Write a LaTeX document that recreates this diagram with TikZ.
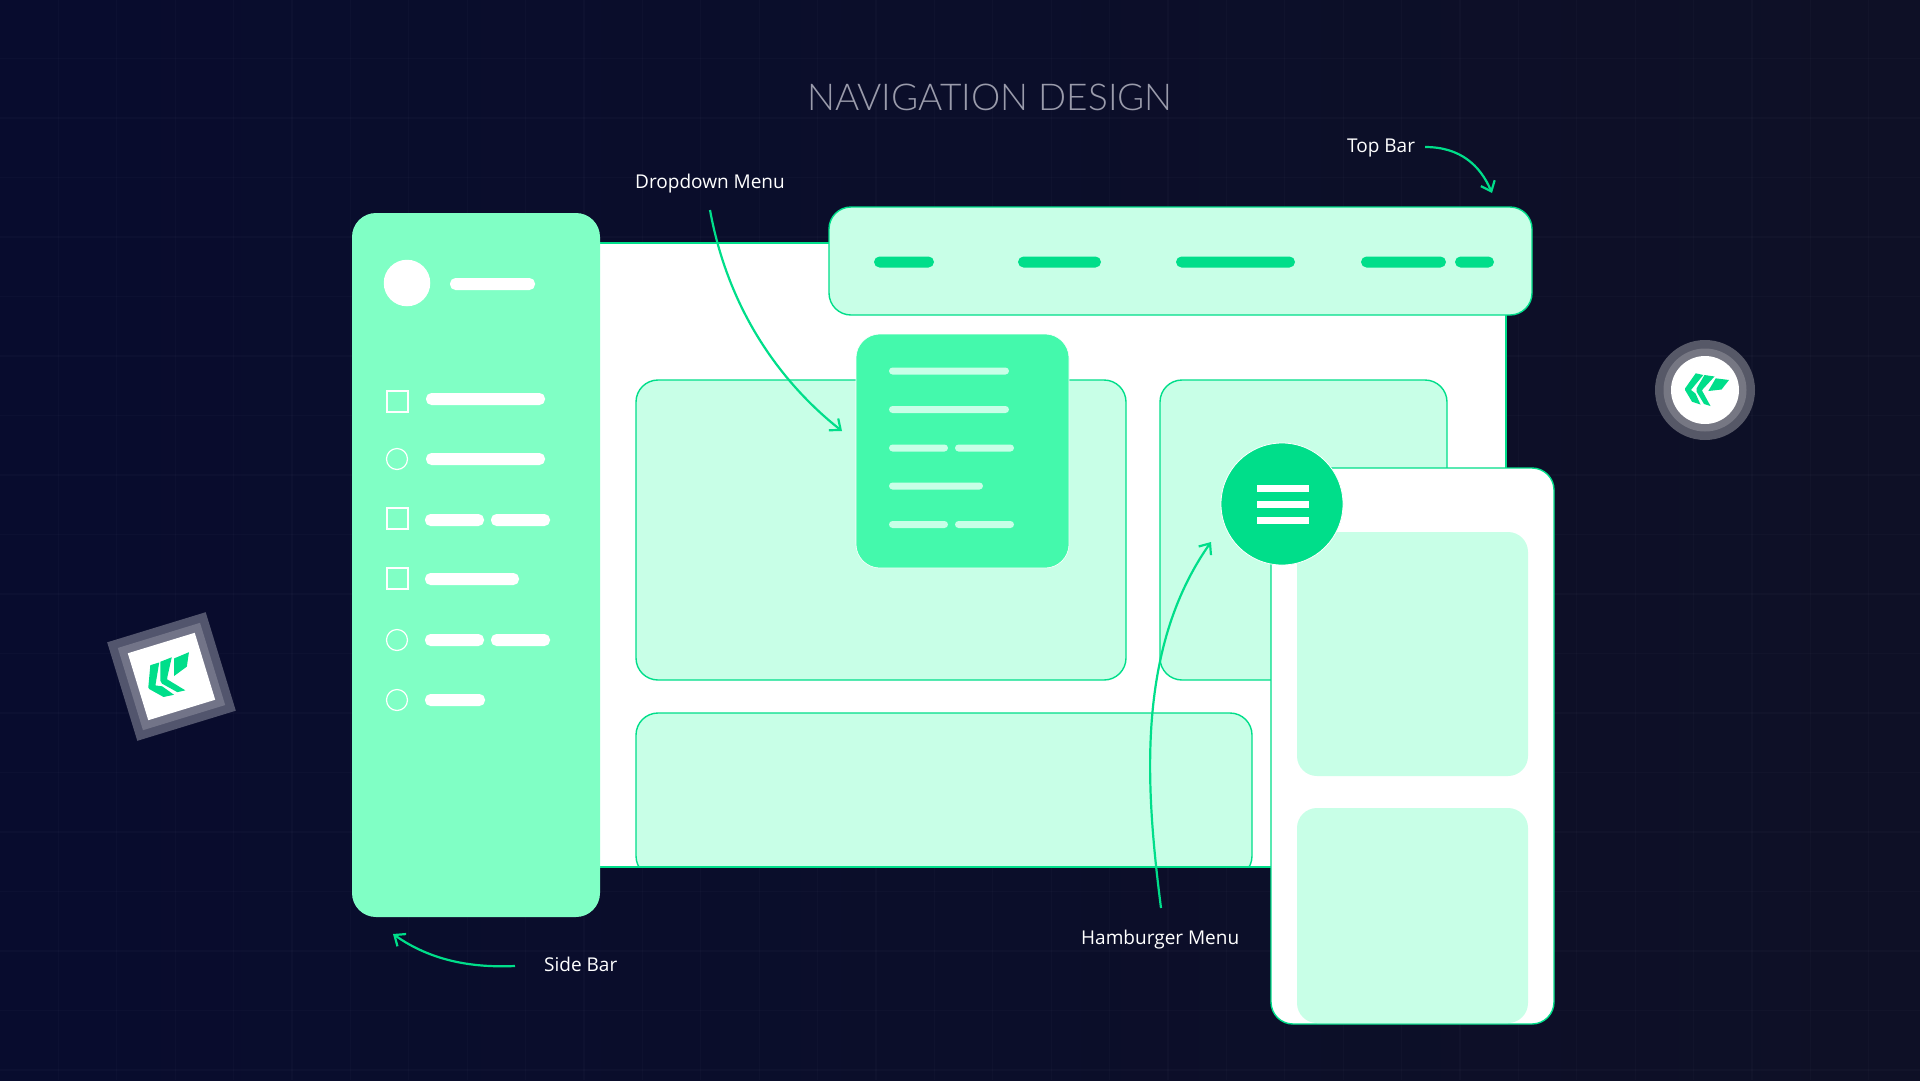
\documentclass[tikz,border=0pt]{standalone}
\usepackage{fontspec}
\usetikzlibrary{arrows.meta}
\setmainfont{Open Sans}
\newfontfamily\titlefont{Lato Light}
\definecolor{bgL}{HTML}{080C2E}
\definecolor{bgR}{HTML}{0E1026}
\definecolor{mint}{HTML}{80FFC5}
\definecolor{pale}{HTML}{C8FFE7}
\definecolor{vivid}{HTML}{00DE8A}
\definecolor{drop}{HTML}{44F9AC}
\definecolor{titlegrey}{HTML}{9A9BAB}
\tikzset{
  x=1pt,y=-1pt,
  base/.style={inner sep=0pt,outer sep=0pt,rectangle},
  panel/.style={base,fill=pale,draw=vivid,line width=1.4pt,rounded corners=22pt},
  whitebox/.style={base,fill=white,draw=vivid,line width=1.4pt},
  phonebox/.style={base,fill=white,draw=vivid,line width=1.4pt,rounded corners=22pt},
  innercard/.style={base,fill=pale,rounded corners=20pt},
  sidebox/.style={base,fill=mint,rounded corners=24pt},
  dropbox/.style={base,fill=drop,draw=white,line width=.6pt,rounded corners=24pt},
  topdash/.style={base,fill=vivid,rounded corners=5.5pt},
  sidedash/.style={base,fill=white,rounded corners=5.5pt},
  droplinebar/.style={base,fill=pale,rounded corners=3.5pt},
  sq/.style={base,draw=white,line width=1.2pt},
  rnd/.style={circle,inner sep=0pt,outer sep=0pt,draw=white,line width=1.2pt},
  burger/.style={base,fill=white},
  lbl/.style={text=white,font=\fontsize{19}{24}\selectfont,inner sep=0pt},
  conn/.style={draw=vivid,line width=2.2pt,-{Straight Barb[length=9pt,width=15pt,line width=2.2pt]}},
}
\newcommand{\bx}[6]{\node[#1,minimum width={(#5-#3)*1pt},minimum height={(#6-#4)*1pt}] (#2) at ({(#3+#5)/2},{(#4+#6)/2}) {};}
\newcommand{\logomark}{%
  \fill[vivid] (-20,-1.5)--(-9.3,-16.7)--(-1.7,-15)--(-12,-2.5)--(-14,0)--(-9.5,3.5)--(-4.5,14.5)--(-13,11.7)--(-20,0)--cycle;
  \fill[vivid] (-0.5,-15)--(9.5,-13.5)--(-2,-1)--(-3,0.5)--(5.5,16)--(-1,14)--(-8.5,1.5)--(-8.5,-1.5)--cycle;
  \fill[vivid] (10.7,-11.7)--(24,-10)--(16.5,-0.5)--(3.3,1)--cycle;
}
\begin{document}
\begin{tikzpicture}
\useasboundingbox (0,0) rectangle (1920,1080);
\shade[left color=bgL,right color=bgR] (0,0) rectangle (1920,1080);
\foreach \i in {1,...,32} {
  \draw[white,opacity=.018,line width=1.2pt] ({58.4*\i},0) -- ({58.4*\i},1080);
}
\foreach \i in {1,...,18} {
  \draw[white,opacity=.018,line width=1.2pt] (0,{59.5*\i-1}) -- (1920,{59.5*\i-1});
}
% title
\node[inner sep=0pt,text=titlegrey,font=\titlefont\fontsize{37}{44}\selectfont] (title) at (990,97) {NAVIGATION DESIGN};
% main window
\bx{whitebox}{mainwin}{590}{243}{1506}{867}
\bx{panel}{panelA}{636}{380}{1126}{680}
\bx{panel}{panelB}{1160}{380}{1447}{680}
\begin{scope}
  \clip (600,700) rectangle (1300,867);
  \bx{panel}{panelC}{636}{713}{1252}{878}
\end{scope}
\draw[vivid,line width=1.4pt] (590,867) -- (1280,867);
% top bar
\bx{panel}{topbar}{829}{207}{1532}{315}
\bx{topdash}{td1}{874}{256.5}{934}{267.5}
\bx{topdash}{td2}{1018}{256.5}{1101}{267.5}
\bx{topdash}{td3}{1176}{256.5}{1295}{267.5}
\bx{topdash}{td4}{1361}{256.5}{1446}{267.5}
\bx{topdash}{td5}{1455}{256.5}{1494}{267.5}
% dropdown
\bx{dropbox}{dropdown}{856}{334}{1069}{568}
\bx{droplinebar}{dl1}{889}{367.5}{1009}{374.5}
\bx{droplinebar}{dl2}{889}{406}{1009}{413}
\bx{droplinebar}{dl3a}{889}{444.5}{948}{451.5}
\bx{droplinebar}{dl3b}{955}{444.5}{1014}{451.5}
\bx{droplinebar}{dl4}{889}{482.5}{983}{489.5}
\bx{droplinebar}{dl5a}{889}{521}{948}{528}
\bx{droplinebar}{dl5b}{955}{521}{1014}{528}
% side bar
\bx{sidebox}{sidebar}{352}{213}{600}{917}
\node[circle,fill=white,minimum size=46.5pt,inner sep=0pt,outer sep=0pt] (avatar) at (407,283) {};
\bx{sidedash}{sd0}{450}{278}{535}{290}
\bx{sq}{s1}{387}{391}{408}{412}
\bx{sidedash}{sd1}{426}{393}{545}{405}
\node[rnd,minimum size=21pt] (c2) at (397,459) {};
\bx{sidedash}{sd2}{426}{453}{545}{465}
\bx{sq}{s3}{387}{508}{408}{529}
\bx{sidedash}{sd3a}{425}{514}{484}{526}
\bx{sidedash}{sd3b}{491}{514}{550}{526}
\bx{sq}{s4}{387}{568}{408}{589}
\bx{sidedash}{sd4}{425}{573}{519}{585}
\node[rnd,minimum size=21pt] (c5) at (397,640) {};
\bx{sidedash}{sd5a}{425}{634}{484}{646}
\bx{sidedash}{sd5b}{491}{634}{550}{646}
\node[rnd,minimum size=21pt] (c6) at (397,700) {};
\bx{sidedash}{sd6}{425}{694}{485}{706}
% phone
\bx{phonebox}{phone}{1271}{468}{1554}{1024}
\bx{innercard}{card1}{1297}{532}{1528}{776}
\bx{innercard}{card2}{1297}{808}{1528}{1023}
\node[circle,fill=vivid,draw=white,line width=.8pt,minimum size=122pt,inner sep=0pt,outer sep=0pt] (menu) at (1282,504) {};
\bx{burger}{b1}{1257}{484.5}{1309}{491.5}
\bx{burger}{b2}{1257}{501}{1309}{508}
\bx{burger}{b3}{1257}{517}{1309}{524}
% tilted badge
\begin{scope}[shift={(171.5,676.5)},rotate=17]
  \fill[fill=white!30!bgL] (-51.5,-51.5) rectangle (51.5,51.5);
  \fill[fill=white!43!bgL] (-43,-43) rectangle (43,43);
  \fill[white] (-35,-35) rectangle (35,35);
\end{scope}
\begin{scope}[shift={(170,677)},rotate=30,scale=1.2]
  \logomark
\end{scope}
% round badge
\node[circle,fill=white!30!bgR,minimum size=100pt,inner sep=0pt] (badgeB) at (1705,390) {};
\node[circle,fill=white!43!bgR,minimum size=83pt,inner sep=0pt] (badgeC) at (1705,390) {};
\node[circle,fill=white,minimum size=68pt,inner sep=0pt] (badgeD) at (1705,390) {};
\begin{scope}[shift={(1705,390)}]
  \logomark
\end{scope}
% labels
\node[lbl,anchor=west] (ltop) at (1347,148) {Top Bar};
\node[lbl,anchor=west] (ldrop) at (635,184) {Dropdown Menu};
\node[lbl,anchor=west] (lside) at (544,964) {Side Bar};
\node[lbl,anchor=west] (lham) at (1081,940) {Hamburger Menu};
% connector ends
\coordinate (topS) at (1425,147);
\coordinate (topE) at (1492,193);
\coordinate (dropS) at (710,210);
\coordinate (dropE) at (842,431);
\coordinate (sideS) at (515,966);
\coordinate (sideE) at (393,934);
\coordinate (hamS) at (1161,908);
\coordinate (hamE) at (1211,542);
\draw[conn] (topS) .. controls (1460,147) and (1480,165) .. (topE);
\draw[conn] (dropS) .. controls (730,320) and (790,390) .. (dropE);
\draw[conn] (sideS) .. controls (470,968) and (430,960) .. (sideE);
\draw[conn] (hamS) .. controls (1146,790) and (1135,650) .. (hamE);
\end{tikzpicture}
\end{document}
